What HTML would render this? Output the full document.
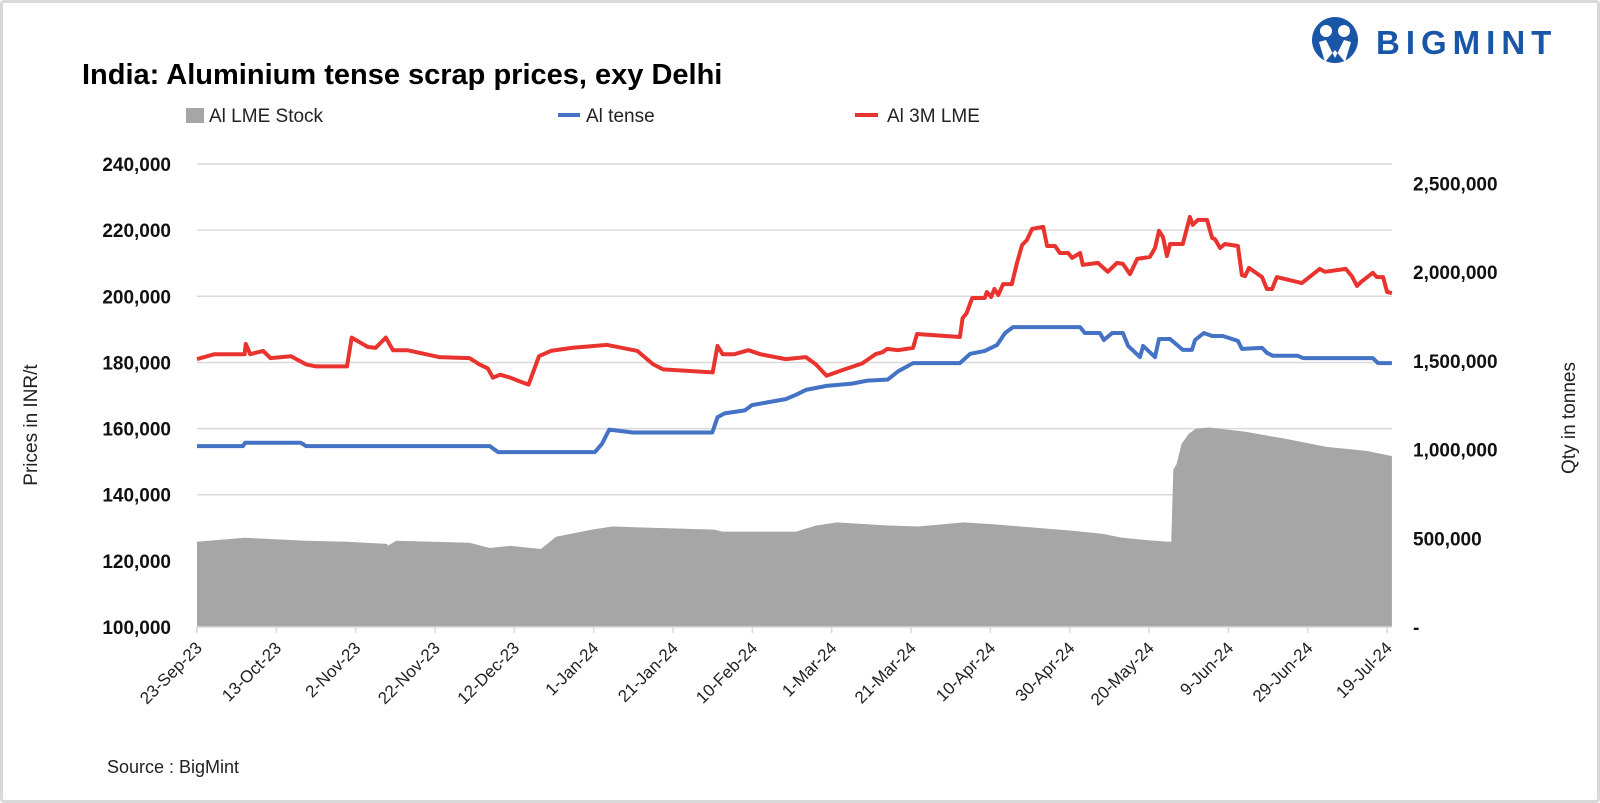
<!DOCTYPE html>
<html><head><meta charset="utf-8">
<style>
html,body{margin:0;padding:0;background:#fff;}
#wrap{position:relative;width:1600px;height:803px;overflow:hidden;font-family:"Liberation Sans",sans-serif;}
#frame{position:absolute;left:0;top:0;width:1594px;height:797px;border:3px solid #d9d9d9;border-radius:4px;}
svg{position:absolute;left:0;top:0;}
</style></head>
<body>
<div id="wrap">
<div id="frame"></div>
<svg id="chart" width="1600" height="803" viewBox="0 0 1600 803">
  <text x="82" y="84" font-size="29" font-weight="bold" fill="#000">India: Aluminium tense scrap prices, exy Delhi</text>
  <g>
    <circle cx="1335" cy="40" r="23" fill="#1a56a8"/>
    <circle cx="1326" cy="31" r="6" fill="#fff"/>
    <circle cx="1344" cy="31" r="6" fill="#fff"/>
    <path d="M1319 42 L1326 40 L1335 58 L1344 40 L1351 42 L1345 62 L1335 50 L1325 62 Z" fill="#fff"/>
    <text x="1376" y="54" font-size="33" font-weight="bold" fill="#1a56a8" letter-spacing="6">BIGMINT</text>
  </g>
  <g>
    <g>
      <rect x="186" y="108" width="18" height="15" fill="#a6a6a6"/>
      <text x="209" y="122" font-size="19" fill="#222">Al LME Stock</text>
    </g>
    <g>
      <line x1="558" y1="115" x2="580" y2="115" stroke="#4472c4" stroke-width="4"/>
      <text x="586" y="122" font-size="19" fill="#222">Al tense</text>
    </g>
    <g>
      <line x1="855" y1="115" x2="878" y2="115" stroke="#e8332e" stroke-width="4"/>
      <text x="887" y="122" font-size="19" fill="#222">Al 3M LME</text>
    </g>
  </g>
  <g id="grid"></g>
  <g id="area"></g>
  <g id="lines"></g>
  <g id="axes"></g>
  <text transform="translate(37,425) rotate(-90)" text-anchor="middle" font-size="19" fill="#222">Prices in INR/t</text>
  <text transform="translate(1575,418) rotate(-90)" text-anchor="middle" font-size="19" fill="#222">Qty in tonnes</text>
  <text x="107" y="773" font-size="18" fill="#222">Source : BigMint</text>
</svg>
</div>
<script>
// ---- data (x = days since 23-Sep-23) ----
const xTickLabels = ["23-Sep-23","13-Oct-23","2-Nov-23","22-Nov-23","12-Dec-23","1-Jan-24","21-Jan-24","10-Feb-24","1-Mar-24","21-Mar-24","10-Apr-24","30-Apr-24","20-May-24","9-Jun-24","29-Jun-24","19-Jul-24"];
const leftTicks = [100000,120000,140000,160000,180000,200000,220000,240000];
const rightTicks = [0,500000,1000000,1500000,2000000,2500000];
const rightTickLabels = ["-","500,000","1,000,000","1,500,000","2,000,000","2,500,000"];

const lmeDays = [0,4.4,12,12.3,13.4,16.7,18.5,23.7,27.5,30,37.8,39,43,45,47.6,49.4,53,61,68.7,71.2,73.3,74.6,76.4,79,81.5,83.6,86.2,89.2,94.4,103.4,111,115,117.5,130,131.2,132.5,135.5,139,142,148.4,153.5,156,158.7,162.5,167.7,171,172.8,174,176.7,180.5,181.5,192.3,193,194,195.4,198.6,199.1,200.2,201,202,203.2,205.4,206.7,208,209.2,210.5,213.3,214.3,216.3,217.5,219.6,220.6,222.6,223.3,227.1,229.6,231.9,233.4,235.2,237,240.2,241.5,242.5,243.5,244.5,245.3,248.5,250.3,251,252.3,254.6,255.9,256.6,257.9,259.1,262.4,263.4,264.2,265.2,268.5,269.7,271,272.2,278.5,283,284.3,289.6,291.1,292.4,293.4,296.4,297.4,299,300,301.2];
const lmeVals = [181000,182500,182500,185600,182500,183500,181300,181900,179400,178800,178800,187500,184700,184400,187500,183700,183700,181600,181300,179400,178200,175400,176300,175400,174200,173300,181900,183500,184400,185300,183500,179400,177900,177000,185000,182500,182500,183700,182500,181000,181600,179400,176000,177600,179700,182500,183100,184100,183700,184400,188600,187700,193400,194900,199500,199500,201300,199800,202200,200400,203700,203700,210100,215500,217000,220400,221000,215200,215200,213100,213100,211600,213100,209500,210100,207400,210100,209800,206700,211300,211900,214600,219800,217900,212200,215800,215800,224000,221600,223100,223100,217600,217300,214600,215800,215200,206400,206100,208600,205800,202200,202200,205800,204000,208300,207400,208300,206100,203100,204300,207100,205800,205800,201300,201000];

const tenseDays = [0,11.6,12.1,26.2,27.5,73.8,75.9,100.3,102.1,103.9,109.8,129.9,131.2,133,138.1,139.9,148.4,151,153.5,158.7,165.1,169,174.1,176.7,180.5,192.3,194.9,198.6,201.7,203.7,205.7,222.6,223.8,227.6,228.6,230.7,233.4,234.7,237.7,238.5,241.5,242.5,245.3,248.5,250.8,251.6,253.8,255.9,258.6,262.4,263.4,268.5,269.7,271.2,277.5,278.8,296.4,297.7,301.2];
const tenseVals = [154700,154700,155700,155700,154700,154700,152900,152900,155400,159700,158800,158800,163400,164600,165500,167100,168900,170200,171700,172900,173600,174500,174800,177300,179800,179800,182600,183500,185300,188900,190700,190700,188900,188900,186800,188900,188900,185000,181600,185000,181600,187100,187100,183800,183800,186800,188900,188000,188000,186500,184100,184400,182900,182000,182000,181300,181300,179800,179800];

const stockDays = [0,12,27.5,37.8,48,48.1,50.2,68.7,73.8,79,86.7,90.5,99.5,104.7,112.4,130.4,132.5,145.8,151,156.1,161.3,174.1,181.8,193.4,201.1,207.6,220.4,228.1,233.3,238.4,244.9,245.6,246.1,246.9,248.2,250,251.8,255.1,264.1,274.4,284.7,295,301.2];
const stockVals = [480100,503100,485900,480100,468600,457100,485900,474400,445600,457100,439900,509000,549200,566500,560700,549200,537800,537800,537800,572300,589600,572300,566500,589600,578100,566500,543500,526200,503100,491600,480100,480100,888500,917300,1032300,1089800,1118600,1124300,1101300,1061100,1015100,992100,963300];

// ---- scales ----
const X0=197, PXD=3.967, YB=627;
const xS = d => X0 + d*PXD;
const yL = v => YB - (v-100000)/20000*66.14;
const yR = v => YB - v/500000*88.7;
const NS="http://www.w3.org/2000/svg";
function mk(tag, attrs, parent){const e=document.createElementNS(NS,tag);for(const k in attrs)e.setAttribute(k,attrs[k]);parent.appendChild(e);return e;}

const grid=document.getElementById('grid');
leftTicks.forEach((v,i)=>{
  if(i>0){
    const g=mk('line',{x1:X0,x2:1392,y1:yL(v),y2:yL(v),stroke:'#d9d9d9','stroke-width':1.5},grid);
    
    
  }
});

const area=document.getElementById('area');
let pts=stockDays.map((d,i)=>xS(d).toFixed(1)+','+yR(stockVals[i]).toFixed(1));
pts.push(xS(stockDays[stockDays.length-1]).toFixed(1)+','+YB);
pts.push(xS(0).toFixed(1)+','+YB);
const poly=mk('polygon',{points:pts.join(' '),fill:'#a6a6a6'},area);



const lines=document.getElementById('lines');
const tl=mk('polyline',{points:tenseDays.map((d,i)=>xS(d).toFixed(1)+','+yL(tenseVals[i]).toFixed(1)).join(' '),fill:'none',stroke:'#4472c4','stroke-width':4,'stroke-linejoin':'round'},lines);


const rl=mk('polyline',{points:lmeDays.map((d,i)=>xS(d).toFixed(1)+','+yL(lmeVals[i]).toFixed(1)).join(' '),fill:'none',stroke:'#e8332e','stroke-width':4,'stroke-linejoin':'round'},lines);



const axes=document.getElementById('axes');
const ax=mk('line',{x1:X0,x2:1392,y1:YB,y2:YB,stroke:'#d9d9d9','stroke-width':1.5},axes);


xTickLabels.forEach((lab,i)=>{
  const x=xS(i*20);
  const tk=mk('line',{x1:x,x2:x,y1:YB,y2:YB+6,stroke:'#d9d9d9','stroke-width':1.5},axes);
  
  
  const t=mk('text',{transform:`translate(${x+6},${YB+22}) rotate(-45)`,'text-anchor':'end','font-size':17,fill:'#222'},axes);
  t.textContent=lab;
  
  
});
leftTicks.forEach(v=>{
  const t=mk('text',{x:171,y:yL(v)+7,'text-anchor':'end','font-size':19,'font-weight':'bold',fill:'#111'},axes);
  t.textContent=v.toLocaleString('en-US');
  
  
});
rightTicks.forEach((v,i)=>{
  const t=mk('text',{x:1413,y:yR(v)+7,'text-anchor':'start','font-size':19,'font-weight':'bold',fill:'#111'},axes);
  t.textContent=rightTickLabels[i];
  
  
});
</script>
</body></html>
